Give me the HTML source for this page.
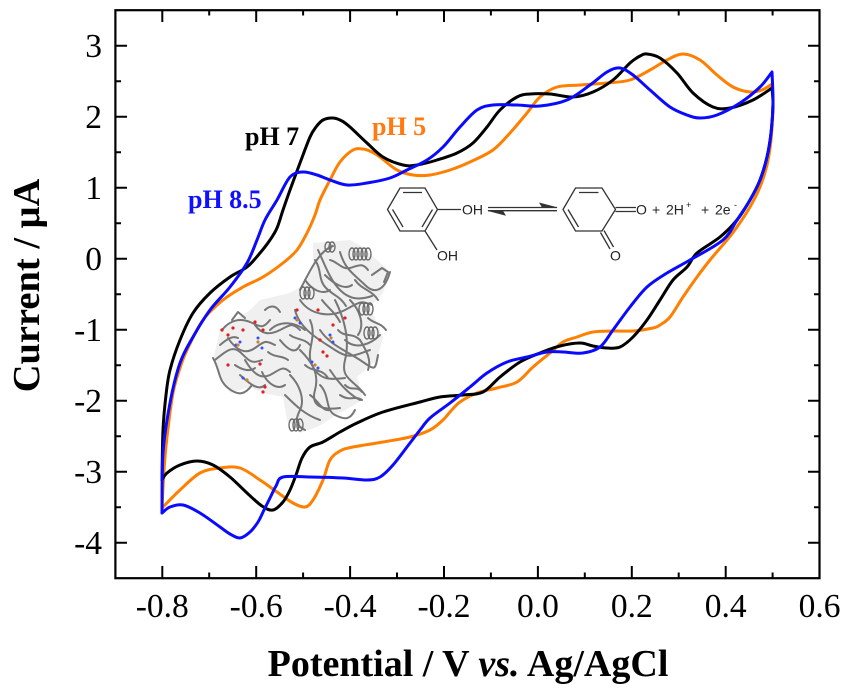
<!DOCTYPE html>
<html><head><meta charset="utf-8"><style>
html,body{margin:0;padding:0;background:#fff;}
svg{display:block;}
</style></head><body>
<svg id="sv" width="852" height="690" viewBox="0 0 852 690" xmlns="http://www.w3.org/2000/svg">
<rect width="852" height="690" fill="#fff"/>

<!-- protein blob -->
<g>
<polygon points="313,243 350,240 363,247 390,272 383,293 370,307 383,337 377,360 357,377 363,400 340,413 317,427 300,433 287,420 283,397 263,393 250,387 230,393 213,360 220,330 250,310 260,300 290,293 300,287 313,267" fill="#f0f0f0"/>
<g fill="none" stroke="#767676" stroke-width="2" stroke-linecap="round" stroke-linejoin="round">
<path d="M300,290 C310,270 320,250 333,246"/>
<path d="M318,250 C325,265 330,280 340,290 S360,300 372,296"/>
<path d="M340,252 C345,270 355,275 365,285 S385,290 390,272"/>
<path d="M372,275 L382,268 L388,272 L384,282"/>
<path d="M300,300 C310,315 330,318 345,310 S360,300 372,305"/>
<path d="M295,310 C300,330 320,340 335,350 S355,355 370,350"/>
<path d="M310,320 C318,338 305,350 312,365 S330,380 345,378"/>
<path d="M335,300 C345,320 350,340 345,360 S355,380 365,395"/>
<path d="M320,330 C330,345 345,350 360,360 S375,372 378,355"/>
<path d="M345,340 C355,350 370,345 380,335"/>
<path d="M300,350 C310,360 320,372 315,390 S325,410 340,408"/>
<path d="M330,370 C340,385 350,395 360,400"/>
<path d="M320,385 C330,395 325,410 335,415 S350,420 355,410"/>
<path d="M290,375 C300,385 305,400 300,410 S295,425 305,430"/>
<path d="M285,395 C295,405 305,415 320,420"/>
<path d="M270,330 C280,320 295,322 305,330"/>
<path d="M222,330 C230,320 240,318 250,322 S262,330 270,320"/>
<path d="M215,360 C225,352 232,345 240,352 S250,365 262,360"/>
<path d="M213,358 C220,370 218,380 228,388 S245,395 252,385"/>
<path d="M228,338 C236,350 245,355 255,348 S265,340 275,345"/>
<path d="M245,360 C252,372 260,380 270,375 S282,365 290,372"/>
<path d="M262,372 C268,385 278,390 285,385"/>
<path d="M240,375 C248,382 258,392 265,385"/>
<path d="M280,340 C288,350 296,355 300,345"/>
<path d="M255,325 C262,335 270,335 280,330 S292,322 300,330"/>
<path d="M232,320 L238,312 L245,318"/>
<path d="M265,310 C270,305 276,305 280,312"/>
<path d="M350,300 C360,310 365,325 358,335"/>
<path d="M325,275 C335,285 345,290 352,285"/>
<path d="M305,280 C312,290 322,295 330,290"/>
<path d="M340,395 C350,402 355,395 362,400"/>
<path d="M315,260 C322,270 318,280 326,288 S340,296 346,306"/>
<path d="M330,260 C338,262 342,270 350,268 S362,262 368,270"/>
<path d="M355,280 C362,290 372,290 378,300"/>
<path d="M360,340 C366,350 372,360 368,370"/>
<path d="M338,330 C345,338 352,332 360,340"/>
<path d="M305,365 C312,372 322,368 328,378"/>
<path d="M345,385 C352,392 356,385 362,392"/>
<path d="M310,395 C318,400 322,412 330,410"/>
<path d="M235,365 C242,370 250,372 255,368"/>
<path d="M220,345 C226,340 232,335 238,338"/>
<path d="M268,352 C275,358 282,355 288,360"/>
<path d="M290,335 C296,340 304,338 310,345"/>
<path d="M322,300 C328,308 335,312 340,322"/>
<path d="M368,318 C374,324 380,322 386,330"/>
</g>
<g fill="none" stroke="#6c6c6c" stroke-width="1.4">
<ellipse cx="352" cy="254" rx="3" ry="6"/><ellipse cx="356" cy="254" rx="3" ry="6"/><ellipse cx="360" cy="254" rx="3" ry="6"/><ellipse cx="364" cy="254" rx="3" ry="6"/><ellipse cx="368" cy="254" rx="3" ry="6"/>
<ellipse cx="362" cy="309" rx="3" ry="6"/><ellipse cx="366" cy="309" rx="3" ry="6"/><ellipse cx="370" cy="309" rx="3" ry="6"/>
<ellipse cx="367" cy="333" rx="3" ry="6"/><ellipse cx="371" cy="333" rx="3" ry="6"/><ellipse cx="375" cy="333" rx="3" ry="6"/>
<ellipse cx="303" cy="293" rx="3" ry="6"/><ellipse cx="307" cy="293" rx="3" ry="6"/><ellipse cx="311" cy="293" rx="3" ry="6"/>
<ellipse cx="292" cy="425" rx="3" ry="6"/><ellipse cx="296" cy="425" rx="3" ry="6"/><ellipse cx="300" cy="425" rx="3" ry="6"/>
<ellipse cx="328" cy="247" rx="3" ry="5"/><ellipse cx="332" cy="247" rx="3" ry="5"/>
</g>
<g fill="#e02020">
<circle cx="222" cy="330" r="1.6"/><circle cx="228" cy="335" r="1.6"/><circle cx="233" cy="328" r="1.6"/><circle cx="243" cy="330" r="1.6"/><circle cx="255" cy="322" r="1.6"/><circle cx="263" cy="330" r="1.6"/><circle cx="297" cy="310" r="1.6"/><circle cx="318" cy="310" r="1.6"/><circle cx="320" cy="340" r="1.6"/><circle cx="333" cy="325" r="1.6"/><circle cx="345" cy="318" r="1.6"/><circle cx="323" cy="352" r="1.6"/><circle cx="327" cy="356" r="1.6"/><circle cx="263" cy="392" r="1.6"/><circle cx="265" cy="387" r="1.6"/><circle cx="260" cy="364" r="1.6"/><circle cx="228" cy="365" r="1.6"/>
</g>
<g fill="#3050ff">
<circle cx="236" cy="345" r="1.5"/><circle cx="240" cy="342" r="1.5"/><circle cx="258" cy="338" r="1.5"/><circle cx="262" cy="348" r="1.5"/><circle cx="295" cy="318" r="1.5"/><circle cx="300" cy="323" r="1.5"/><circle cx="330" cy="335" r="1.5"/><circle cx="333" cy="342" r="1.5"/><circle cx="312" cy="362" r="1.5"/><circle cx="318" cy="368" r="1.5"/><circle cx="243" cy="378" r="1.5"/>
</g>
<g fill="#d08030">
<circle cx="238" cy="345" r="1.6"/><circle cx="258" cy="342" r="1.6"/><circle cx="297" cy="320" r="1.6"/><circle cx="331" cy="338" r="1.6"/><circle cx="315" cy="365" r="1.6"/><circle cx="247" cy="380" r="1.6"/>
</g>
</g>

<!-- chemistry -->
<g fill="none" stroke="#333" stroke-width="1.3">
<polygon points="387.5,209.5 400,188 425,188 437.5,209.5 425,231 400,231"/>
<line x1="403" y1="192.5" x2="422" y2="192.5"/>
<line x1="392.5" y1="209.5" x2="403" y2="227"/>
<line x1="432.5" y1="209.5" x2="422" y2="227"/>
<line x1="437.5" y1="209.5" x2="461" y2="209.5"/>
<line x1="425" y1="231" x2="437" y2="250"/>
<line x1="488" y1="207.5" x2="557" y2="207.5"/>
<line x1="488" y1="210.7" x2="557" y2="210.7"/>
<polygon points="563,209.5 575.5,188 602,188 615.5,209.5 602,231 575.5,231"/>
<line x1="579" y1="192.5" x2="598.5" y2="192.5"/>
<line x1="568" y1="209.5" x2="578.5" y2="227"/>
<line x1="615.5" y1="207.5" x2="636" y2="207.5"/>
<line x1="615.5" y1="211.5" x2="636" y2="211.5"/>
<line x1="600.5" y1="232.5" x2="610" y2="249"/>
<line x1="604" y1="230.5" x2="613.5" y2="247"/>
</g>
<polygon points="558,207.5 539,202.5 542,207.5" fill="#333"/>
<polygon points="487,210.7 506,215.7 503,210.7" fill="#333"/>
<g font-family="Liberation Sans, sans-serif" font-size="14" fill="#222">
<text x="462" y="214.5">OH</text>
<text x="437" y="260.5">OH</text>
<text x="636" y="214.5">O</text>
<text x="652" y="214.5">+</text>
<text x="666" y="214.5">2H</text>
<text x="686" y="208" font-size="9">+</text>
<text x="701" y="214.5">+</text>
<text x="715" y="214.5">2e</text>
<text x="734" y="208" font-size="9">-</text>
<text x="610" y="260.5">O</text>
</g>

<!-- curves -->
<g id="curves" fill="none" stroke-width="3" stroke-linejoin="round" stroke-linecap="round">
<polyline class="s" stroke="#ff7f00" points="162,508 164,470 167,437 173,393 180,368 187,350 203,320 223,300 243,287 263,277 283,263 297,250 307,233 315,215 320,200 330,180 340,162 353,150 363,149 372,152 380,157 397,170 413,175 430,175 450,170 470,162 493,150 510,133 527,113 540,97 557,87 580,85 607,83 630,80 650,70 667,60 683,54 700,60 717,75 733,87 750,92 762,90 772,84 773,105 771,140 767,165 760,187 750,207 737,227 727,240 710,260 697,277 683,297 670,317 660,325 653,328 633,331 613,331 593,332 577,337 563,342 550,353 533,367 517,382 497,388 477,393 460,402 450,412 443,420 430,430 410,437 383,442 353,447 340,451 330,460 323,480 313,500 305,507 293,503 277,492 260,480 240,468 220,468 200,473 180,490 162,508"/>
<polyline class="s" stroke="#000" points="162,480 163,430 166,395 170,370 180,340 193,313 210,293 230,277 247,267 260,253 270,240 277,228 283,210 290,190 300,163 310,137 316,127 323,120 333,118 342,121 350,127 367,143 383,157 403,165 417,165 437,160 457,153 473,143 487,127 500,110 517,97 530,94 550,94 573,97 593,92 613,80 630,63 640,56 647,54 660,58 677,73 693,93 713,107 730,108 753,100 772,88 773,105 771,133 767,157 760,180 750,200 737,220 720,237 697,253 687,267 673,280 660,300 647,320 633,337 620,347 607,348 593,346 580,343 560,346 540,353 520,362 500,377 483,392 463,395 440,397 420,402 383,412 357,423 340,432 323,442 310,447 302,458 296,475 290,490 283,502 273,510 262,506 247,493 230,477 213,465 197,461 180,465 167,473 162,480"/>
<polyline class="s" stroke="#0a0aff" points="162,513 163,453 170,403 180,363 193,337 210,310 230,287 247,263 257,240 265,220 277,200 290,177 303,172 317,175 330,180 347,185 367,183 390,178 407,170 427,160 443,147 460,127 477,110 493,105 517,105 540,106 567,100 590,85 607,72 620,68 633,75 650,90 670,107 687,115 700,118 717,115 740,103 760,87 772,72 773,103 771,133 767,157 760,180 750,200 737,220 723,240 690,260 667,273 647,287 630,307 613,330 600,347 583,353 563,352 547,352 527,357 507,362 487,373 470,387 450,403 430,418 420,430 410,443 393,465 380,477 367,480 343,478 310,477 283,477 276,486 270,498 264,510 258,522 250,532 240,538 230,534 220,527 200,513 183,505 170,507 162,513"/>
</g>

<!-- labels -->
<g font-family="Liberation Serif, serif" font-weight="bold" font-size="26">
<text x="245" y="145" fill="#000">pH 7</text>
<text x="372" y="135" fill="#ff7a10">pH 5</text>
<text x="188" y="208" fill="#1010ff">pH 8.5</text>
</g>

<!-- frame and ticks -->
<rect x="115.4" y="10.2" width="704.1" height="568" fill="none" stroke="#000" stroke-width="2.2"/>
<g stroke="#000" stroke-width="2">
<path d="M162.3,578 V566 M256.2,578 V566 M350.1,578 V566 M444,578 V566 M537.9,578 V566 M631.8,578 V566 M725.7,578 V566"/>
<path d="M209.2,578 V572.5 M303.1,578 V572.5 M397,578 V572.5 M490.9,578 V572.5 M584.8,578 V572.5 M678.7,578 V572.5 M772.6,578 V572.5"/>
<path d="M162.3,10 V22 M256.2,10 V22 M350.1,10 V22 M444,10 V22 M537.9,10 V22 M631.8,10 V22 M725.7,10 V22"/>
<path d="M209.2,10 V15.5 M303.1,10 V15.5 M397,10 V15.5 M490.9,10 V15.5 M584.8,10 V15.5 M678.7,10 V15.5 M772.6,10 V15.5"/>
<path d="M115,45.7 H127 M115,116.7 H127 M115,187.7 H127 M115,258.7 H127 M115,329.7 H127 M115,400.7 H127 M115,471.7 H127 M115,542.7 H127"/>
<path d="M115,81.2 H121 M115,152.2 H121 M115,223.2 H121 M115,294.2 H121 M115,365.2 H121 M115,436.2 H121 M115,507.2 H121"/>
<path d="M820,45.7 H808 M820,116.7 H808 M820,187.7 H808 M820,258.7 H808 M820,329.7 H808 M820,400.7 H808 M820,471.7 H808 M820,542.7 H808"/>
<path d="M820,81.2 H814 M820,152.2 H814 M820,223.2 H814 M820,294.2 H814 M820,365.2 H814 M820,436.2 H814 M820,507.2 H814"/>
</g>

<g font-family="Liberation Serif, serif" font-size="33.5" fill="#000">
<g text-anchor="middle">
<text x="162.3" y="617">-0.8</text>
<text x="256.2" y="617">-0.6</text>
<text x="350.1" y="617">-0.4</text>
<text x="444" y="617">-0.2</text>
<text x="537.9" y="617">0.0</text>
<text x="631.8" y="617">0.2</text>
<text x="725.7" y="617">0.4</text>
<text x="819.6" y="617">0.6</text>
</g>
<g text-anchor="end">
<text x="102" y="57">3</text>
<text x="102" y="128">2</text>
<text x="102" y="199">1</text>
<text x="102" y="270">0</text>
<text x="102" y="341">-1</text>
<text x="102" y="412">-2</text>
<text x="102" y="483">-3</text>
<text x="102" y="554">-4</text>
</g>
</g>

<text x="468" y="676" text-anchor="middle" font-family="Liberation Serif, serif" font-weight="bold" font-size="38">Potential / V <tspan font-style="italic">vs.</tspan> Ag/AgCl</text>
<text transform="translate(39,285.5) rotate(-90)" text-anchor="middle" font-family="Liberation Serif, serif" font-weight="bold" font-size="38.5">Current / μA</text>
</svg>
<script>
(function(){
  var NS="http://www.w3.org/2000/svg";
  var pls=document.querySelectorAll("polyline.s");
  for(var k=0;k<pls.length;k++){
    var pl=pls[k];
    var pts=pl.getAttribute("points").trim().split(/\s+/).map(function(p){return p.split(",").map(Number);});
    var n=pts.length;
    var corner=function(i){var p=pts[i];return i===0||i===n-1||p[0]===772;};
    var d="M"+pts[0][0]+","+pts[0][1];
    for(var i=0;i<n-1;i++){
      var p1=pts[i],p2=pts[i+1];
      var p0=corner(i)?p1:pts[i-1];
      var p3=corner(i+1)?p2:pts[i+2];
      var t=6;
      var c1x=p1[0]+(p2[0]-p0[0])/t,c1y=p1[1]+(p2[1]-p0[1])/t;
      var c2x=p2[0]-(p3[0]-p1[0])/t,c2y=p2[1]-(p3[1]-p1[1])/t;
      d+=" C"+c1x.toFixed(2)+","+c1y.toFixed(2)+" "+c2x.toFixed(2)+","+c2y.toFixed(2)+" "+p2[0]+","+p2[1];
    }
    var path=document.createElementNS(NS,"path");
    path.setAttribute("d",d);
    path.setAttribute("stroke",pl.getAttribute("stroke"));
    pl.parentNode.replaceChild(path,pl);
  }
})();
</script>
</body></html>
